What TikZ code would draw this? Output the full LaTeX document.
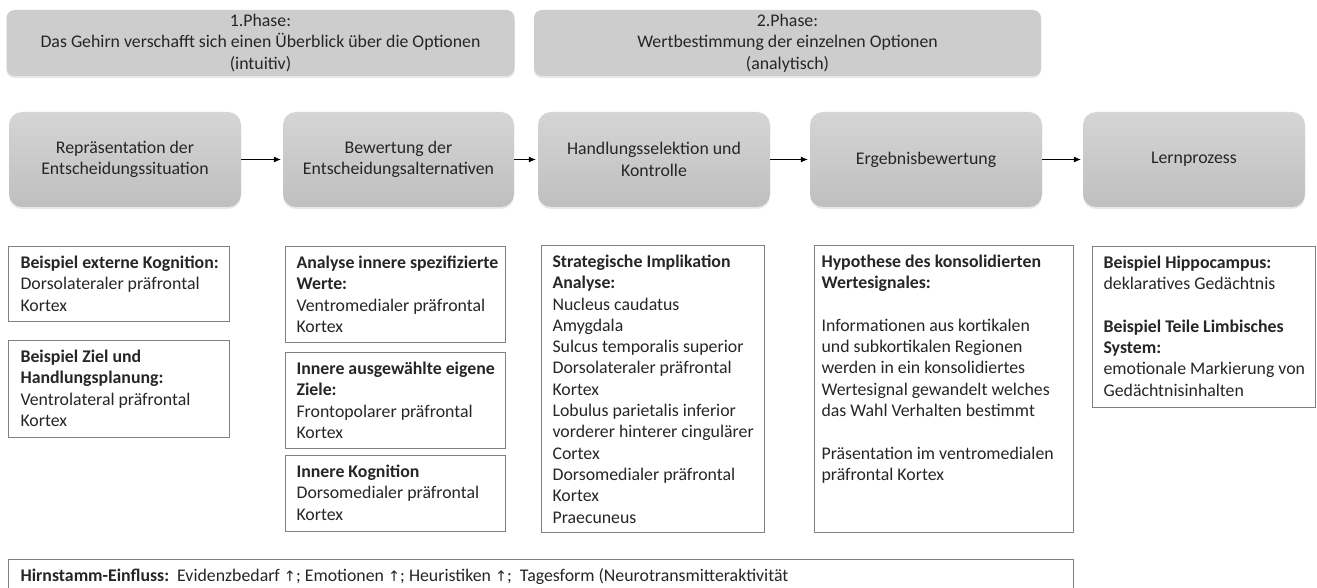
\documentclass[tikz,border=0pt]{standalone}
\usepackage{fontspec}
\setmainfont{Carlito}
\newfontfamily\symfont{DejaVu Sans}
\usetikzlibrary{shadows,arrows.meta}
\definecolor{txt}{HTML}{262626}
\definecolor{bord}{HTML}{808080}
\definecolor{phasefill}{HTML}{CDCDCD}
\definecolor{proctop}{HTML}{D5D5D5}
\definecolor{procbot}{HTML}{BFBFBF}
% width, height, left padding, text
\newcommand{\tbx}[4]{\parbox[c][#2][t]{#1}{\leftskip=#3\relax\rightskip=1pt plus 1fil\relax
  \parfillskip=0pt plus 1fil\relax\vspace*{7pt}\strut #4}}
\newcommand{\up}{{\symfont\fontsize{14.5}{17}\selectfont ↑}}
\tikzset{
  every node/.style={font=\fontsize{17.8}{21.3}\selectfont, text=txt},
  phasebox/.style={rounded corners=8pt, fill=phasefill, minimum height=66pt, align=center,
    drop shadow={opacity=0.18, shadow xshift=0pt, shadow yshift=-2pt}},
  procbox/.style={rounded corners=13pt, top color=proctop, bottom color=procbot, draw=none,
    minimum height=95pt, align=center,
    drop shadow={opacity=0.18, shadow xshift=0pt, shadow yshift=-2pt}},
  textbox/.style={draw=bord, line width=1.1pt, fill=white, inner sep=0pt,
    anchor=north west},
  flow/.style={-{Latex[length=7pt,width=6pt]}, line width=0.8pt, black, shorten >=2pt}
}
\begin{document}
\begin{tikzpicture}[x=1pt,y=-1pt]
\useasboundingbox (0,0) rectangle (1317,588);
\clip (0,0) rectangle (1317,588);
\fill[white] (0,0) rectangle (1317,588);
% phases
\node[phasebox, minimum width=508pt] (ph1) at (260.5,43)
  {1.Phase:\\Das Gehirn verschafft sich einen Überblick über die Optionen\\(intuitiv)};
\node[phasebox, minimum width=507pt] (ph2) at (787.5,43)
  {2.Phase:\\Wertbestimmung der einzelnen Optionen\\(analytisch)};
% process
\node[procbox, minimum width=232pt] (p1) at (125,159.5) {Repräsentation der\\Entscheidungssituation};
\node[procbox, minimum width=231pt] (p2) at (398.5,159.5) {Bewertung der\\Entscheidungsalternativen};
\node[procbox, minimum width=232pt] (p3) at (654,159.5) {Handlungsselektion und\\Kontrolle};
\node[procbox, minimum width=232pt] (p4) at (926,159.5) {Ergebnisbewertung};
\node[procbox, minimum width=222pt] (p5) at (1194,159.5) {Lernprozess};
\draw[flow] (p1.east) -- (p2.west);
\draw[flow] (p2.east) -- (p3.west);
\draw[flow] (p3.east) -- (p4.west);
\draw[flow] (p4.east) -- (p5.west);
% text boxes
\node[textbox] (a1) at (8,246) {\tbx{221pt}{75pt}{12pt}{\textbf{Beispiel externe Kognition:}\\Dorsolateraler präfrontal\\Kortex}};
\node[textbox] (a2) at (8,340) {\tbx{221pt}{97pt}{12pt}{\textbf{Beispiel Ziel und}\\\textbf{Handlungsplanung:}\\Ventrolateral präfrontal\\Kortex}};
\node[textbox] (b1) at (285,246) {\tbx{220pt}{96pt}{11pt}{\textbf{Analyse innere spezifizierte}\\\textbf{Werte:}\\Ventromedialer präfrontal\\Kortex}};
\node[textbox] (b2) at (285,352) {\tbx{220pt}{96pt}{11pt}{\textbf{Innere ausgewählte eigene}\\\textbf{Ziele:}\\Frontopolarer präfrontal\\Kortex}};
\node[textbox] (b3) at (285,455) {\tbx{220pt}{76pt}{11pt}{\textbf{Innere Kognition}\\Dorsomedialer präfrontal\\Kortex}};
\node[textbox] (c) at (541,245) {\tbx{223pt}{287pt}{11pt}{\textbf{Strategische Implikation}\\\textbf{Analyse:}\\Nucleus caudatus\\Amygdala\\Sulcus temporalis superior\\Dorsolateraler präfrontal\\Kortex\\Lobulus parietalis inferior\\vorderer hinterer cingulärer\\Cortex\\Dorsomedialer präfrontal\\Kortex\\Praecuneus}};
\node[textbox] (d) at (814,245) {\tbx{259pt}{287pt}{7pt}{\textbf{Hypothese des konsolidierten}\\\textbf{Wertesignales:}\\[21.3pt]Informationen aus kortikalen\\und subkortikalen Regionen\\werden in ein konsolidiertes\\Wertesignal gewandelt welches\\das Wahl Verhalten bestimmt\\[21.3pt]Präsentation im ventromedialen\\präfrontal Kortex}};
\node[textbox] (e) at (1092,246) {\tbx{223pt}{161pt}{11pt}{\textbf{Beispiel Hippocampus:}\\deklaratives Gedächtnis\\[21.3pt]\textbf{Beispiel Teile Limbisches}\\\textbf{System:}\\emotionale Markierung von\\Gedächtnisinhalten}};
% bottom
\node[textbox] (f) at (8,559) {\tbx{1065pt}{50pt}{12pt}{\textbf{Hirnstamm-Einfluss:}\ \ Evidenzbedarf \up; Emotionen \up; Heuristiken \up;\ \ Tagesform (Neurotransmitteraktivität}};
\end{tikzpicture}
\end{document}
